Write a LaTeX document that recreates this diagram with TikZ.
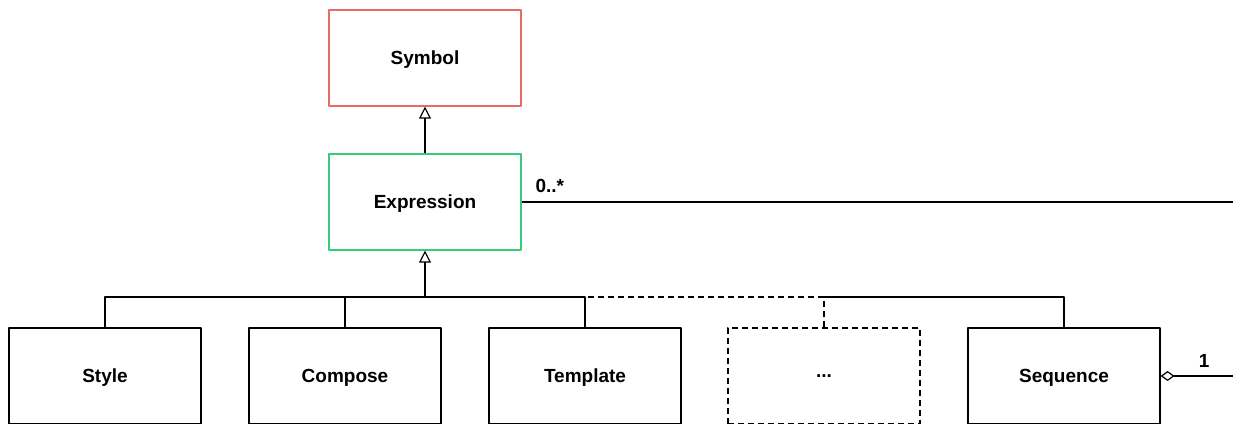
\documentclass[tikz,border=0pt]{standalone}
\usepackage{fontspec}
\setmainfont{Liberation Sans}
\usetikzlibrary{arrows.meta}
\definecolor{symred}{HTML}{EA6B66}
\definecolor{exprgreen}{HTML}{33CC77}
\begin{document}
\begin{tikzpicture}[x=1pt, y=-1pt, font=\fontsize{19}{23}\selectfont\bfseries, line join=round, line width=1.2pt,
	cls/.style={draw, minimum width=192pt, minimum height=96pt, inner sep=0pt, text depth=0pt},
	gen/.style={-{Triangle[open, length=12pt, width=12pt]}},
	agg/.style={{Diamond[open, length=14pt, width=10pt]}-},
	dsh/.style={dash pattern=on 6pt off 4pt}]
	\def\busy{297} \def\rowy{376}
	\useasboundingbox (0,0) rectangle (1233,423);
	\clip (0,0) rectangle (1233,423);
	\node[cls, draw=symred] (sym) at (425,58) {Symbol};
	\node[cls, draw=exprgreen] (expr) at (425,202) {Expression};
	\node[cls] (style) at (105,\rowy) {Style};
	\node[cls] (compose) at (345,\rowy) {Compose};
	\node[cls] (template) at (585,\rowy) {Template};
	\node[cls, dsh] (dots) at (824,\rowy) {...};
	\node[cls] (seq) at (1064,\rowy) {Sequence};
	\coordinate (bus) at (425,\busy);
	\coordinate (exprend) at (1233,202);
	\coordinate (seqend) at (1233,\rowy);
	\draw[gen] (expr) -- (sym);
	\draw[gen] (bus) -- (expr);
	\draw (style.north) |- (bus);
	\draw (compose.north) |- (bus);
	\draw (template.north) |- (bus);
	\draw[dsh] (dots.north) |- (template.north |- bus);
	\draw (seq.north) |- (dots.north |- bus);
	\draw (expr.east) -- (exprend) node[pos=0, anchor=south west, xshift=10pt, yshift=5pt]{0..*};
	\draw[agg] (seq.east) -- (seqend) node[pos=0.6, above, yshift=5pt]{1};
\end{tikzpicture}
\end{document}
